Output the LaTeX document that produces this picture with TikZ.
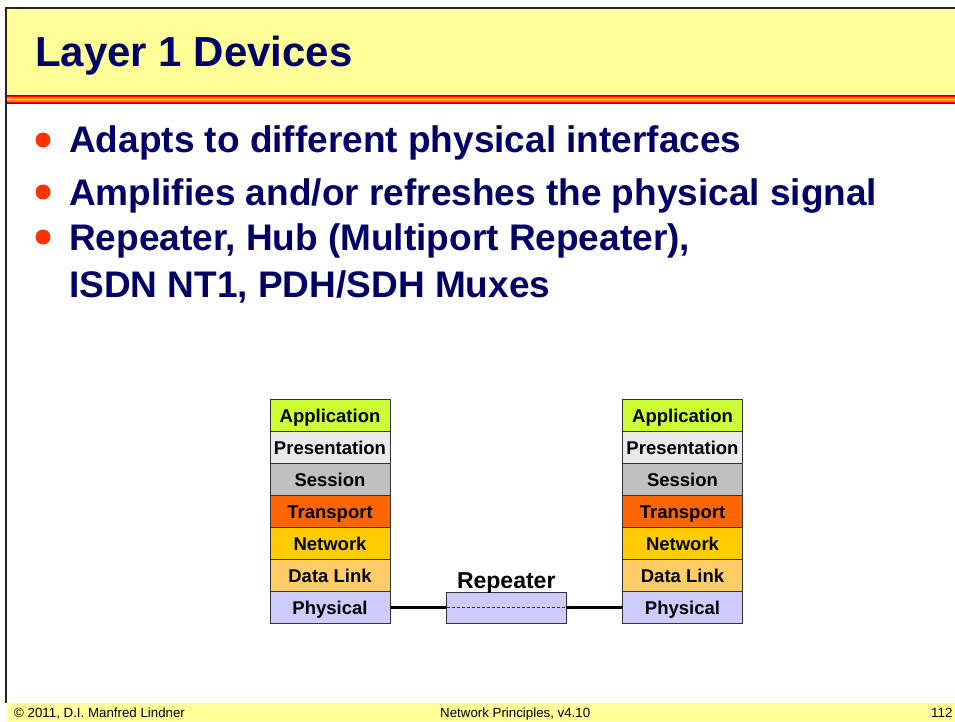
\documentclass[tikz,border=0pt]{standalone}
\usepackage{fontspec}
\setmainfont{Liberation Sans}
\usetikzlibrary{positioning}
\definecolor{slidenavy}{HTML}{000066}
\definecolor{slideyellow}{HTML}{FFFF99}
\definecolor{bulletred}{HTML}{FF3300}
\definecolor{appgreen}{HTML}{CCFF33}
\definecolor{presgray}{HTML}{EAEAEA}
\definecolor{sessgray}{HTML}{C0C0C0}
\definecolor{transorange}{HTML}{FF6600}
\definecolor{netgold}{HTML}{FFCC00}
\definecolor{linkpeach}{HTML}{FFCC66}
\definecolor{physblue}{HTML}{CCCCFF}

\begin{document}
\begin{tikzpicture}[x=1pt, y=-1pt,
  layer/.style={draw=black!80, line width=0.8pt, minimum width=120pt, minimum height=32pt,
    inner sep=0pt, outer sep=0pt, text height=14.6pt, text depth=0pt,
    font=\fontsize{18.5}{20}\selectfont\bfseries},
  bullettext/.style={anchor=base west, inner sep=0pt, text=slidenavy, font=\fontsize{37}{40}\selectfont\bfseries},
  footer/.style={anchor=base west, inner sep=0pt, font=\fontsize{13.3}{15}\selectfont}]
  \useasboundingbox (0,0) rectangle (955,722);

  % Title band and frame
  \fill[slideyellow] (7,9) rectangle (955,95);
  \foreach \top/\col in {95/red!60!black, 96.2/red, 97.4/orange, 98.6/yellow, 100.4/orange, 101.6/red, 102.6/red!60!black}
    \fill[\col] (7,\top) rectangle (955,\top+1.3);
  \draw[line width=2pt, black!85] (6,703) -- (6,8) -- (955,8);
  \node[anchor=base west, inner sep=0pt, text=slidenavy, font=\fontsize{42}{48}\selectfont\bfseries] (title) at (35,67) {Layer 1 Devices};

  % Bullets
  \foreach \y in {140,192,237}
    \fill[bulletred] (43,\y) circle (7.5);
  \node[bullettext] (b1) at (69,153) {Adapts to different physical interfaces};
  \node[bullettext] (b2) at (69,205) {Amplifies and/or refreshes the physical signal};
  \node[bullettext] (b3) at (69,250) {Repeater, Hub (Multiport Repeater),};
  \node[bullettext] (b4) at (69,297) {ISDN NT1, PDH/SDH Muxes};

  % Layer stacks
  \foreach \name/\col [count=\i] in {Application/appgreen, Presentation/presgray, Session/sessgray,
      Transport/transorange, Network/netgold, Data Link/linkpeach, Physical/physblue} {
    \node[layer, fill=\col] (L\i) at (330,383.5+32*\i) {\name};
    \node[layer, fill=\col] (R\i) at (682.5,383.5+32*\i) {\name};
  }

  % Repeater
  \node[draw=black!80, line width=0.8pt, fill=physblue, minimum width=119.5pt, minimum height=31pt,
    inner sep=0pt, outer sep=0pt] (rep) at (506.25,607.5) {};
  \node[anchor=base, inner sep=0pt, font=\fontsize{23}{25}\selectfont\bfseries] (replabel)
    at ([yshift=4pt]rep.north) {Repeater};
  \draw[dashed, black!80, line width=0.6pt, dash pattern=on 3pt off 2pt] (rep.west) -- (rep.east);
  \draw[line width=3.5pt] (L7.east) -- (rep.west);
  \draw[line width=3.5pt] (rep.east) -- (R7.west);

  % Footer
  \fill[slideyellow] (7,703) rectangle (955,722);
  \node[footer] (copyright) at (14,717) {© 2011, D.I. Manfred Lindner};
  \node[footer] (course) at (440,717) {Network Principles, v4.10};
  \node[footer] (page) at (931,717) {112};
\end{tikzpicture}
\end{document}
